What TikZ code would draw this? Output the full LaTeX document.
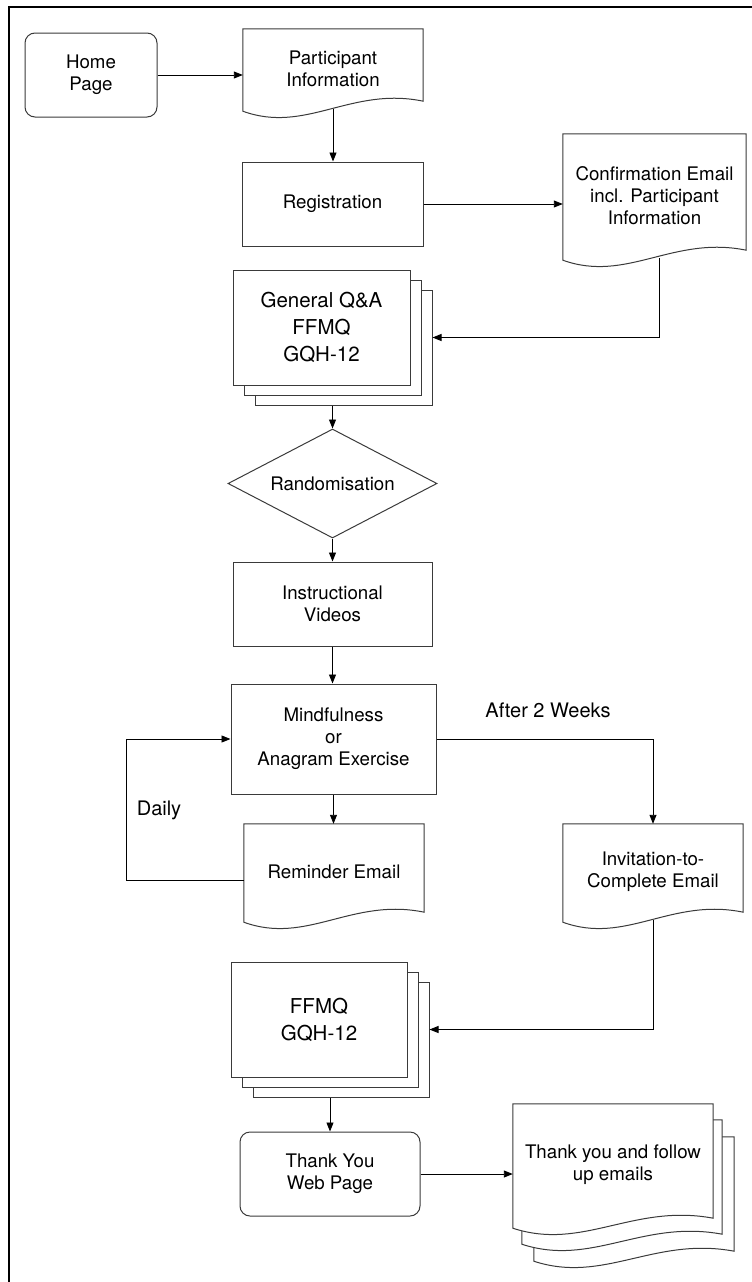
\documentclass[tikz,border=0pt]{standalone}
\usepackage{fontspec}
\setmainfont{TeX Gyre Heros}
\usetikzlibrary{arrows.meta,calc,shapes.geometric,backgrounds}
\definecolor{boxc}{HTML}{3A3A3A}
\newcommand\docoutline[1]{%
  \draw[draw=boxc, line width=1pt, fill=white] (#1.north west) -- (#1.north east) -- ([yshift=8]#1.south east)
    .. controls ($(#1.south west)!0.6!(#1.south east)+(0,23)$) and ($(#1.south west)!0.35!(#1.south east)+(0,-25)$) .. ([yshift=-2]#1.south west) -- cycle;}
\begin{document}
\begin{tikzpicture}[x=1pt,y=1pt,
  every node/.style={align=center, inner sep=0pt},
  box/.style={draw=boxc, line width=1pt, fill=white, font=\fontsize{18.7}{22}\selectfont},
  rbox/.style={box, rounded corners=10pt},
  stackbox/.style={box, font=\fontsize{20.5}{27}\selectfont},
  docnode/.style={font=\fontsize{18.7}{22}\selectfont},
  arr/.style={draw=black, line width=0.9pt, -{Triangle[length=9pt,width=7pt]}},
  lbl/.style={font=\fontsize{20}{24}\selectfont},
]
\useasboundingbox (0,0) rectangle (752,-1282);
\draw[line width=1.6pt] (9,-1282) -- (9,-7) -- (752,-7);

\node[rbox, minimum width=132, minimum height=84] (home) at (91,-75) {Home\\Page};
\node[docnode, minimum width=180, minimum height=80] (pi) at (333,-69) {Participant\\Information};
\node[box, minimum width=181, minimum height=84] (reg) at (332.5,-204) {Registration};
\node[docnode, minimum width=183, minimum height=124] (conf) at (654.5,-196) {Confirmation Email\\incl. Participant\\Information};

\node[stackbox, minimum width=177, minimum height=115] (gq3) at (343.5,-347.5) {};
\node[stackbox, minimum width=177, minimum height=115] (gq2) at (332.5,-337.5) {};
\node[stackbox, minimum width=177, minimum height=115] (gq) at (321.5,-327.5) {General Q\&A\\FFMQ\\GQH-12};

\node[diamond, draw=boxc, line width=1pt, aspect=1.92, minimum width=209, minimum height=109, font=\fontsize{18.7}{22}\selectfont] (diam) at (332.5,-483.5) {Randomisation};
\node[box, minimum width=199, minimum height=84] (instr) at (332.5,-604) {Instructional\\Videos};
\node[box, minimum width=205, minimum height=110] (mind) at (333.5,-739) {Mindfulness\\or\\Anagram Exercise};
\node[docnode, minimum width=180, minimum height=96] (rem) at (334,-872) {Reminder Email};
\node[docnode, minimum width=180, minimum height=96] (inv) at (653,-872) {Invitation-to-\\Complete Email};

\node[stackbox, minimum width=176, minimum height=115] (ff3) at (341,-1039.5) {};
\node[stackbox, minimum width=176, minimum height=115] (ff2) at (330,-1029.5) {};
\node[stackbox, minimum width=176, minimum height=115] (ff) at (319,-1019.5) {FFMQ\\GQH-12};

\node[rbox, minimum width=180, minimum height=84] (ty) at (330,-1174) {Thank You\\Web Page};
\node[docnode, minimum width=200, minimum height=122] (em3) at (634,-1198) {};
\node[docnode, minimum width=200, minimum height=122] (em2) at (622,-1181) {};
\node[docnode, minimum width=200, minimum height=122] (em) at (613,-1165) {Thank you and follow\\up emails};

\node[lbl] (daily) at (159,-810) {Daily};
\node[lbl] (after) at (548,-710) {After 2 Weeks};

\begin{pgfonlayer}{background}
\docoutline{pi}
\docoutline{conf}
\docoutline{rem}
\docoutline{inv}
\docoutline{em3}
\docoutline{em2}
\docoutline{em}
\end{pgfonlayer}

\draw[arr] (home.east) -- (home.east -| pi.west);
\draw[arr] (pi.south) -- (pi.south |- reg.north);
\draw[arr] (reg.east) -- (reg.east -| conf.west);
\draw[arr] ([xshift=5]conf.south) |- (gq3.east |- gq2.center);
\draw[arr] (diam.north |- gq3.south) -- (diam.north);
\draw[arr] (diam.south) -- (instr.north);
\draw[arr] (instr.south) -- (instr.south |- mind.north);
\draw[arr] (mind.south) -- (mind.south |- rem.north);
\draw[arr] (mind.east) -| (inv.north);
\coordinate (dl) at (126,-880);
\draw[arr] ([yshift=-8]rem.west) -- (dl) |- (mind.west);
\draw[arr] (inv.south) |- (ff3.east |- ff2.center);
\draw[arr] (ty.north |- ff3.south) -- (ty.north);
\draw[arr] (ty.east) -- (ty.east -| em.west);
\end{tikzpicture}
\end{document}
